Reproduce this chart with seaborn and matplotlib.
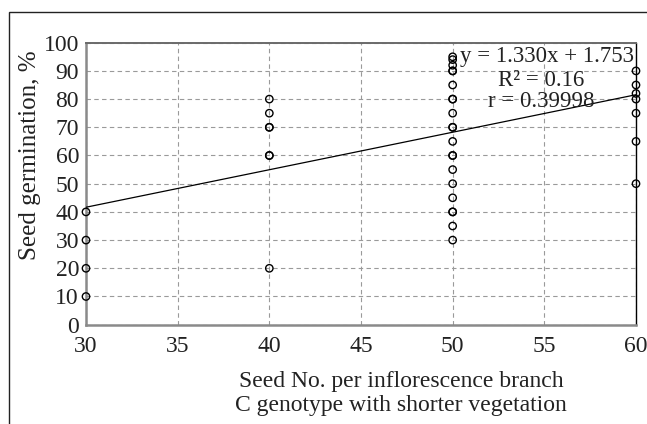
import matplotlib
matplotlib.use('Agg')
from matplotlib import pyplot as plt
from matplotlib.patches import Rectangle
import numpy as np
import pandas as pd
import seaborn as sns

# seed number per inflorescence branch and germination %
x_30 = [30, 30, 30, 30]
y_30 = [40, 30, 20, 10]
x_40 = [40, 40, 40, 40, 40, 40, 40]
y_40 = [80, 75, 70, 70, 60, 60, 20]
x_50 = [50, 50, 50, 50, 50, 50, 50, 50, 50, 50, 50,
        50, 50, 50, 50, 50, 50, 50, 50, 50, 50]
y_50 = [95, 94, 92, 90, 90, 85, 80, 80, 75, 70, 70,
        65, 60, 60, 55, 50, 45, 40, 40, 35, 30]
x_60 = [60, 60, 60, 60, 60, 60, 60]
y_60 = [90, 85, 82, 80, 75, 65, 50]

# trend line as printed on the chart
slope = 1.330
intercept = 1.753
eq_lines = ['y = 1.330x + 1.753', 'R² = 0.16', 'r = 0.39998']

df = pd.DataFrame({
    'seeds': x_30 + x_40 + x_50 + x_60,
    'germ': y_30 + y_40 + y_50 + y_60,
})

sns.set_style('white')
plt.rcParams['font.family'] = ['Liberation Serif', 'DejaVu Serif']

f, ax = plt.subplots(figsize=(6.47, 4.24), dpi=100)
f.subplots_adjust(left=0.1329, right=0.983, top=0.8993, bottom=0.2342)

ax.grid(True, color='#9a9a9a', linestyle=(0, (4, 3)), linewidth=0.8)
ax.set_axisbelow(True)

xf = np.array([30, 60])
ax.plot(xf, slope * xf + intercept, color='black', linewidth=0.9, zorder=3)

sns.scatterplot(data=df, x='seeds', y='germ', ax=ax, marker='o', s=28,
                facecolors='none', edgecolor='black', linewidth=1.0,
                zorder=4, clip_on=False, legend=False)

ax.set_xlim(30, 60)
ax.set_ylim(0, 100)
ax.set_xticks(range(30, 61, 5))
ax.set_yticks(range(0, 101, 10))
ax.tick_params(axis='both', labelsize=17, length=0, colors='#222222')
ax.tick_params(axis='x', pad=8)
ax.tick_params(axis='y', pad=5)

for s in ['left', 'bottom']:
    ax.spines[s].set_color('#8a8a8a')
    ax.spines[s].set_linewidth(1.8)
ax.spines['top'].set_color('#6a6a6a')
ax.spines['top'].set_linewidth(1.4)
ax.spines['top'].set_linestyle((0, (4, 1)))
ax.spines['right'].set_color('black')
ax.spines['right'].set_linewidth(1.0)

ax.set_xlabel('')
ax.set_ylabel('Seed germination, %', fontsize=18, color='#222222')
ax.yaxis.set_label_coords(-0.082, 0.6)

f.text(401 / 647, 1 - 382 / 424, 'Seed No. per inflorescence branch',
       ha='center', va='center', fontsize=17, color='#222222')
f.text(401 / 647, 1 - 405 / 424, 'C genotype with shorter vegetation',
       ha='center', va='center', fontsize=17, color='#222222')

ax.text(0.997, 0.95, eq_lines[0], transform=ax.transAxes, ha='right', va='center',
        fontsize=16.5, color='#222222')
ax.text(0.827, 0.866, eq_lines[1], transform=ax.transAxes, ha='center', va='center',
        fontsize=16.5, color='#222222')
ax.text(0.827, 0.792, eq_lines[2], transform=ax.transAxes, ha='center', va='center',
        fontsize=16.5, color='#222222')

# outer frame, only top and left edges visible in the crop
f.patches.append(Rectangle((9 / 647, -0.2), 1.5, 0.2 + (424 - 12) / 424,
                           transform=f.transFigure, fill=False,
                           edgecolor='#222222', linewidth=1.0))

plt.savefig('out.png', dpi=100)
plt.close('all')
